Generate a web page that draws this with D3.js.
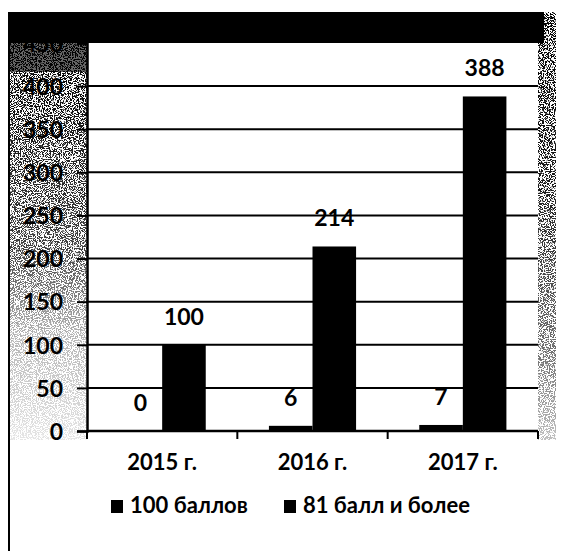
<!DOCTYPE html>
<html>
<head>
<meta charset="utf-8">
<script src="https://cdn.jsdelivr.net/npm/d3@7/dist/d3.min.js"></script>
<style>
  html, body { margin: 0; padding: 0; background: #fff; }
  svg text { font-family: Lato, "Noto Sans", sans-serif; fill: #000; }
</style>
</head>
<body>
<svg id="chart" width="564" height="551"></svg>
<script>
var years = ["2015 г.", "2016 г.", "2017 г."];
var seriesNames = ["100 баллов", "81 балл и более"];
var score100 = [0, 6, 7];
var score81 = [100, 214, 388];
var yTicks = [0, 50, 100, 150, 200, 250, 300, 350, 400, 450];

var W = 564, H = 551,
  plot = { left: 87, right: 538, top: 43, bottom: 431 };

var svg = d3.select("#chart");
var defs = svg.append("defs");

// speckle filter for the scanned look
var f = defs.append("filter").attr("id", "speck")
  .attr("x", 0).attr("y", 0).attr("width", 1).attr("height", 1);
f.append("feTurbulence").attr("type", "fractalNoise")
  .attr("baseFrequency", "0.83 0.91").attr("numOctaves", 3).attr("seed", 11).attr("result", "n");
f.append("feColorMatrix").attr("in", "n").attr("type", "matrix")
  .attr("values", "0 0 0 0 0  0 0 0 0 0  0 0 0 0 0  16 0 0 0 -7.6");

function fade(id, stops, x, w, h) {
  var g = defs.append("linearGradient").attr("id", id)
    .attr("x1", 0).attr("y1", 0).attr("x2", 0).attr("y2", 1);
  stops.forEach(function (s) {
    g.append("stop").attr("offset", s[0]).attr("stop-color", "#fff").attr("stop-opacity", s[1]);
  });
  defs.append("mask").attr("id", id + "-m").attr("maskContentUnits", "userSpaceOnUse")
    .append("rect").attr("x", x).attr("y", 12).attr("width", w).attr("height", h)
    .attr("fill", "url(#" + id + ")");
}
fade("leftFade", [[0, 1], [0.2, 0.95], [0.55, 0.75], [0.75, 0.3], [1, 0.1]], 9, plot.left - 9, 428);
fade("rightFade", [[0, 1], [0.4, 0.9], [0.8, 0.55], [1, 0.25]], plot.right, W - plot.right, 428);

// background bands
var bg = svg.append("g");
bg.append("rect").attr("x", 9).attr("y", 12).attr("width", plot.left - 9).attr("height", 428)
  .attr("fill", "#000").attr("filter", "url(#speck)").attr("mask", "url(#leftFade-m)");
bg.append("rect").attr("x", 9).attr("y", 12).attr("width", plot.left - 9).attr("height", 60)
  .attr("fill", "#000").attr("opacity", 0.6);
bg.append("rect").attr("x", plot.right).attr("y", 12).attr("width", W - plot.right - 8).attr("height", 428)
  .attr("fill", "#000").attr("filter", "url(#speck)").attr("mask", "url(#rightFade-m)");
bg.append("rect").attr("x", 9).attr("y", 12).attr("width", 535).attr("height", plot.top - 12)
  .attr("fill", "#000");
bg.append("rect").attr("x", plot.left).attr("y", plot.top)
  .attr("width", plot.right - plot.left).attr("height", plot.bottom - plot.top).attr("fill", "#fff");
// frame line on the left
bg.append("line").attr("x1", 9).attr("x2", 9).attr("y1", 12).attr("y2", H)
  .attr("stroke", "#000").attr("stroke-width", 2);

// scales
var x0 = d3.scaleBand().domain(years).range([plot.left, plot.right]);
var x1 = d3.scaleBand().domain(seriesNames).range([0, x0.bandwidth()]).paddingOuter(0.725);
var y = d3.scaleLinear().domain([0, 450]).range([plot.bottom, plot.top]);

// gridlines
svg.append("g").selectAll("line").data(yTicks.filter(function (t) { return t > 0 && t < 450; }))
  .enter().append("line")
  .attr("x1", plot.left).attr("x2", plot.right)
  .attr("y1", function (d) { return y(d); }).attr("y2", function (d) { return y(d); })
  .attr("stroke", "#000").attr("stroke-width", 2);

// y axis
var yAxis = svg.append("g").attr("transform", "translate(" + plot.left + ",0)")
  .call(d3.axisLeft(y).tickValues(yTicks).tickSize(10).tickPadding(14));
yAxis.select(".domain").attr("stroke", "#000").attr("stroke-width", 2.5);
yAxis.selectAll(".tick line").attr("stroke", "#000").attr("stroke-width", 2);
yAxis.selectAll(".tick text").attr("font-size", 23).attr("font-weight", 700)
  .attr("font-family", "Lato, 'Noto Sans', sans-serif")
  .attr("fill", function (d) { return d === 450 ? "#9a9a9a" : "#000"; })
  .attr("dy", "0.36em");

// bars
var rows = years.map(function (yr, i) {
  return { year: yr, values: [
    { key: seriesNames[0], value: score100[i] },
    { key: seriesNames[1], value: score81[i] }
  ] };
});

var groups = svg.append("g").selectAll("g").data(rows).enter().append("g")
  .attr("transform", function (d) { return "translate(" + x0(d.year) + ",0)"; });

groups.selectAll("rect").data(function (d) { return d.values; }).enter().append("rect")
  .attr("x", function (d) { return x1(d.key); })
  .attr("y", function (d) { return y(d.value); })
  .attr("width", x1.bandwidth())
  .attr("height", function (d) { return y(0) - y(d.value); })
  .attr("fill", "#000");

groups.selectAll("text").data(function (d) { return d.values; }).enter().append("text")
  .attr("x", function (d) { return x1(d.key) + x1.bandwidth() / 2; })
  .attr("y", function (d) { return y(d.value) - 20; })
  .attr("text-anchor", "middle")
  .attr("font-size", 23).attr("font-weight", 700)
  .text(function (d) { return d.value; });

// x axis
var xg = svg.append("g");
xg.append("line").attr("x1", plot.left).attr("x2", plot.right)
  .attr("y1", plot.bottom).attr("y2", plot.bottom)
  .attr("stroke", "#000").attr("stroke-width", 2.5);
var edges = years.map(function (d) { return x0(d); }).concat([plot.right]);
xg.selectAll(".xt").data(edges).enter().append("line").attr("class", "xt")
  .attr("x1", function (d) { return d; }).attr("x2", function (d) { return d; })
  .attr("y1", plot.bottom).attr("y2", plot.bottom + 8)
  .attr("stroke", "#000").attr("stroke-width", 2);
xg.selectAll("text").data(years).enter().append("text")
  .attr("x", function (d) { return x0(d) + x0.bandwidth() / 2; })
  .attr("y", 470)
  .attr("text-anchor", "middle")
  .attr("font-size", 22).attr("font-weight", 700)
  .text(function (d) { return d; });

// legend
var legendX = [111, 284];
var lg = svg.append("g").selectAll("g").data(seriesNames).enter().append("g")
  .attr("transform", function (d, i) { return "translate(" + legendX[i] + ",500)"; });
lg.append("rect").attr("width", 12).attr("height", 13).attr("fill", "#000");
lg.append("text").attr("x", 19).attr("y", 13)
  .attr("font-size", 22).attr("font-weight", 700)
  .text(function (d) { return d; });
</script>
</body>
</html>
